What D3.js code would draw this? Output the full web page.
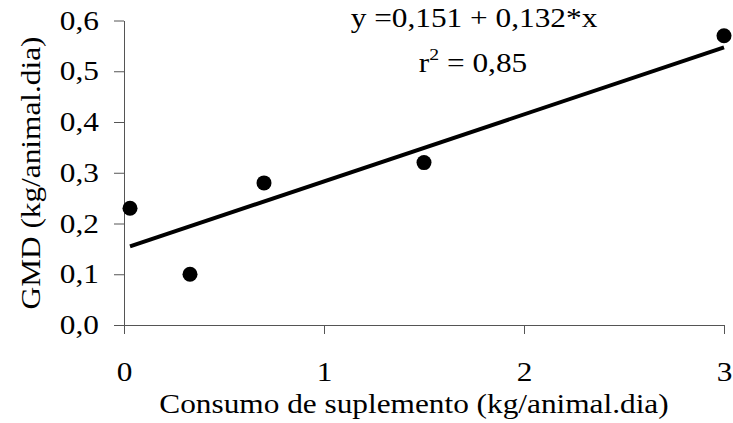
<!DOCTYPE html>
<html>
<head>
<meta charset="utf-8">
<script src="https://cdn.jsdelivr.net/npm/d3@7"></script>
<style>
  body { margin: 0; background: #fff; }
  svg text { font-family: "Liberation Serif", "Times New Roman", serif; fill: #000; }
</style>
</head>
<body>
<script>
// consumo de suplemento (kg/animal.dia) x GMD (kg/animal.dia)
var consumo = [0.03, 0.33, 0.70, 1.50, 3.00];
var gmd = [0.23, 0.10, 0.28, 0.32, 0.57];
var xTicks = [0, 1, 2, 3];
var yTicks = [0, 0.1, 0.2, 0.3, 0.4, 0.5, 0.6];
var intercept = 0.151, slope = 0.132;
var eqText = "y =0,151 + 0,132*x";
var r2Text = "0,85";

var W = 733, H = 423;
var margin = {top: 20.5, left: 124, right: 9, bottom: 98};
var FS = 27, SX = 1.16; // the original font is a bit stretched sideways

var svg = d3.select('body').append('svg')
    .attr('width', W)
    .attr('height', H);

var x = d3.scaleLinear().domain([0, 3]).range([margin.left, W - margin.right]);
var y = d3.scaleLinear().domain([0, 0.6]).range([H - margin.bottom, margin.top]);

var fmt = function (d) { return d3.format('.1f')(d).replace('.', ','); };

svg.append('g')
    .attr('class', 'yaxis')
    .attr('transform', 'translate(' + margin.left + ',0)')
    .call(d3.axisLeft(y).tickValues(yTicks).tickFormat(fmt)
        .tickSize(10).tickSizeOuter(0).tickPadding(15));

svg.append('g')
    .attr('class', 'xaxis')
    .attr('transform', 'translate(0,' + y(0) + ')')
    .call(d3.axisBottom(x).tickValues(xTicks).tickFormat(d3.format('d'))
        .tickSize(9).tickSizeOuter(0).tickPadding(28));

svg.selectAll('.domain, .tick line').attr('stroke', '#555');
svg.selectAll('.tick text')
    .attr('font-size', FS)
    .style('font-family', '"Liberation Serif", serif');
svg.selectAll('.yaxis .tick text')
    .attr('x', 0)
    .attr('transform', 'translate(-25,0) scale(' + SX + ',1)');
svg.selectAll('.xaxis .tick text')
    .attr('transform', 'scale(' + SX + ',1)');

// regression line
var x0 = d3.min(consumo), x1 = d3.max(consumo);
svg.append('line')
    .attr('x1', x(x0)).attr('y1', y(intercept + slope * x0))
    .attr('x2', x(x1)).attr('y2', y(intercept + slope * x1))
    .attr('stroke', '#000')
    .attr('stroke-width', 4);

svg.selectAll('circle.pt')
    .data(d3.range(consumo.length))
    .enter()
    .append('circle')
    .attr('class', 'pt')
    .attr('cx', function (i) { return x(consumo[i]); })
    .attr('cy', function (i) { return y(gmd[i]); })
    .attr('r', 7.5)
    .attr('fill', '#000');

function label(tx, ty, rot) {
    return svg.append('text')
        .attr('transform', 'translate(' + tx + ',' + ty + ')' + (rot ? ' rotate(' + rot + ')' : '') +
              ' scale(' + SX + ',1)')
        .attr('text-anchor', 'middle')
        .attr('font-size', FS);
}

// equation
label(474, 27).text(eqText);

var r2 = label(473, 72);
r2.append('tspan').text('r');
r2.append('tspan').attr('font-size', 17).attr('dy', -12).text('2');
r2.append('tspan').attr('dy', 12).text(' = ' + r2Text);

// axis titles
label(414, 413).text('Consumo de suplemento (kg/animal.dia)');
label(40, 173, -90).text('GMD (kg/animal.dia)');
</script>
</body>
</html>
